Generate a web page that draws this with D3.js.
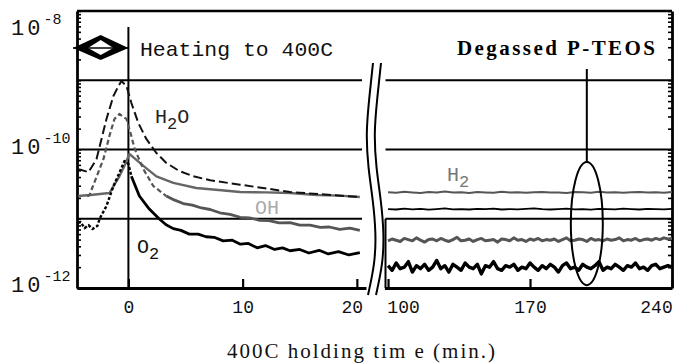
<!DOCTYPE html>
<html>
<head>
<meta charset="utf-8">
<script src="https://cdn.jsdelivr.net/npm/d3@7"></script>
<style>
  body { margin: 0; background: #fff; }
  svg { display: block; }
</style>
</head>
<body>
<svg id="chart" width="691" height="363"></svg>
<script>
// left panel: minutes around the heating step, [time, pressure]
const h2oLeft = [[-4.4, 5.2e-11], [-4.19, 5.1e-11], [-3.49, 4.7e-11], [-2.79, 7.3e-11], [-1.92, 2.76e-10],
  [-1.31, 5.93e-10], [-0.87, 8.26e-10], [-0.61, 9.75e-10], [-0.17, 8.26e-10], [0.26, 4.69e-10],
  [0.87, 2.41e-10], [1.57, 1.42e-10], [2.45, 8.9e-11], [3.32, 6.4e-11], [4.45, 4.9e-11],
  [5.68, 4.1e-11], [7.16, 3.6e-11], [9.78, 3.1e-11], [11.79, 2.78e-11], [14.15, 2.43e-11], [20.26, 2.06e-11]]

const h2Left = [[-4.4, 2.13e-11], [-3.32, 2.2e-11], [-1.66, 2.35e-11], [-0.79, 4.1e-11], [-0.35, 5.8e-11],
  [0.09, 8.6e-11], [0.52, 7.5e-11], [1.31, 5.8e-11], [2.45, 4.1e-11], [3.93, 3.3e-11], [5.94, 2.78e-11],
  [7.9, 2.6e-11], [9.78, 2.43e-11], [12.0, 2.4e-11], [14.15, 2.35e-11], [16.5, 2.2e-11], [18.5, 2.16e-11],
  [20.26, 2.06e-11]]

const ohLeft = [[-3.6, 2.1e-11], [-3.41, 2.2e-11], [-2.18, 7.3e-11], [-1.66, 1.57e-10], [-1.22, 2.76e-10],
  [-0.79, 3.26e-10], [-0.17, 2.76e-10], [0.26, 1.57e-10], [0.52, 1.05e-10], [1.31, 5.2e-11],
  [2.18, 2.97e-11], [3.32, 2.13e-11], [4.0, 1.87e-11], [4.8, 1.66e-11], [5.6, 1.57e-11], [6.4, 1.43e-11],
  [7.16, 1.36e-11], [8.0, 1.22e-11], [8.9, 1.16e-11], [9.78, 1.05e-11], [10.6, 1.03e-11], [11.5, 9.5e-12],
  [12.3, 9.4e-12], [13.2, 8.7e-12], [14.15, 8.8e-12], [15.0, 8.1e-12], [15.9, 8.1e-12], [16.8, 7.5e-12],
  [17.6, 7.6e-12], [18.5, 7.0e-12], [19.4, 7.3e-12], [20.26, 6.8e-12]]

const o2Left = [[-4.4, 8.7e-12], [-4.19, 9.0e-12], [-3.84, 7.3e-12], [-3.49, 8.1e-12], [-3.14, 7.1e-12],
  [-2.71, 7.9e-12], [-2.53, 9.9e-12], [-1.92, 1.53e-11], [-1.31, 2.97e-11], [-0.79, 4.6e-11],
  [-0.35, 6.8e-11], [0.0, 6.2e-11], [0.26, 4.1e-11], [0.96, 2.13e-11], [1.83, 1.38e-11], [2.71, 9.9e-12],
  [3.3, 8.2e-12], [3.93, 7.2e-12], [4.6, 6.8e-12], [5.33, 6.0e-12], [6.1, 6.0e-12], [6.8, 5.5e-12],
  [7.5, 5.4e-12], [8.3, 4.8e-12], [9.1, 4.9e-12], [9.8, 4.3e-12], [10.5, 4.4e-12], [11.27, 3.8e-12],
  [12.0, 4.1e-12], [12.8, 3.6e-12], [13.5, 3.8e-12], [14.15, 3.45e-12], [15.0, 3.6e-12], [15.8, 3.2e-12],
  [16.7, 3.5e-12], [17.5, 3.1e-12], [18.4, 3.35e-12], [19.3, 3.0e-12], [20.26, 3.25e-12]]

// right panel: long holding times
const rightTimes = [100, 104, 108, 112, 116, 120, 124, 128, 132, 136, 140, 144, 148, 152, 156, 160, 164, 168,
  172, 176, 180, 184, 188, 192, 196, 200, 204, 208, 212, 216, 220, 224, 228, 232, 236, 240]

const rightTimesFine = [100, 102, 104, 106, 108, 110, 112, 114, 116, 118, 120, 122, 124, 126, 128, 130, 132,
  134, 136, 138, 140, 142, 144, 146, 148, 150, 152, 154, 156, 158, 160, 162, 164, 166, 168, 170, 172, 174,
  176, 178, 180, 182, 184, 186, 188, 190, 192, 194, 196, 198, 200, 202, 204, 206, 208, 210, 212, 214, 216,
  218, 220, 222, 224, 226, 228, 230, 232, 234, 236, 238, 240]

const h2Right = [2.42e-11, 2.38e-11, 2.45e-11, 2.40e-11, 2.36e-11, 2.44e-11, 2.40e-11, 2.47e-11, 2.39e-11,
  2.41e-11, 2.35e-11, 2.43e-11, 2.40e-11, 2.38e-11, 2.46e-11, 2.40e-11, 2.42e-11, 2.37e-11, 2.41e-11,
  2.44e-11, 2.39e-11, 2.40e-11, 2.36e-11, 2.43e-11, 2.41e-11, 2.38e-11, 2.45e-11, 2.40e-11, 2.42e-11,
  2.37e-11, 2.41e-11, 2.44e-11, 2.39e-11, 2.42e-11, 2.38e-11, 2.43e-11]

const h2oRight = [1.38e-11, 1.36e-11, 1.40e-11, 1.37e-11, 1.39e-11, 1.35e-11, 1.38e-11, 1.41e-11, 1.37e-11,
  1.38e-11, 1.36e-11, 1.39e-11, 1.38e-11, 1.40e-11, 1.36e-11, 1.38e-11, 1.37e-11, 1.39e-11, 1.41e-11,
  1.38e-11, 1.36e-11, 1.38e-11, 1.40e-11, 1.37e-11, 1.38e-11, 1.35e-11, 1.39e-11, 1.38e-11, 1.37e-11,
  1.40e-11, 1.38e-11, 1.36e-11, 1.39e-11, 1.38e-11, 1.37e-11, 1.39e-11]

const ohRight = [4.8e-12, 5.1e-12, 4.9e-12, 4.7e-12, 5.2e-12, 5.0e-12, 4.8e-12, 5.3e-12, 4.9e-12, 4.6e-12,
  5.0e-12, 5.1e-12, 4.8e-12, 5.2e-12, 4.9e-12, 4.7e-12, 5.0e-12, 5.4e-12, 4.8e-12, 4.9e-12,
  5.1e-12, 4.7e-12, 5.0e-12, 5.2e-12, 4.8e-12, 4.9e-12, 5.0e-12, 4.6e-12, 5.1e-12, 5.0e-12,
  4.8e-12, 5.3e-12, 4.9e-12, 5.0e-12, 4.7e-12, 5.1e-12, 4.9e-12, 5.2e-12, 4.8e-12, 5.0e-12,
  4.9e-12, 5.1e-12, 4.7e-12, 5.0e-12, 5.3e-12, 4.8e-12, 4.9e-12, 5.1e-12, 5.0e-12, 4.7e-12,
  5.2e-12, 4.9e-12, 5.0e-12, 4.8e-12, 5.1e-12, 4.9e-12, 5.0e-12, 5.3e-12, 4.8e-12, 5.0e-12,
  4.9e-12, 5.2e-12, 4.8e-12, 5.0e-12, 5.1e-12, 4.9e-12, 5.2e-12, 5.0e-12, 5.3e-12, 5.1e-12, 5.2e-12]

const o2Right = [2.1e-12, 1.8e-12, 2.3e-12, 1.9e-12, 2.0e-12, 2.4e-12, 1.7e-12, 2.1e-12, 1.9e-12, 2.2e-12,
  1.8e-12, 2.0e-12, 2.5e-12, 1.9e-12, 2.1e-12, 1.7e-12, 2.2e-12, 2.0e-12, 1.8e-12, 2.3e-12,
  2.0e-12, 1.9e-12, 2.2e-12, 1.6e-12, 2.1e-12, 2.0e-12, 2.4e-12, 1.9e-12, 1.8e-12, 2.1e-12,
  2.0e-12, 2.2e-12, 1.8e-12, 2.0e-12, 1.9e-12, 2.3e-12, 2.0e-12, 1.8e-12, 2.1e-12, 1.9e-12,
  2.2e-12, 2.0e-12, 1.7e-12, 2.1e-12, 2.3e-12, 1.9e-12, 2.0e-12, 1.8e-12, 2.2e-12, 2.0e-12,
  1.9e-12, 2.1e-12, 2.4e-12, 1.8e-12, 2.0e-12, 1.9e-12, 2.2e-12, 2.0e-12, 1.8e-12, 2.1e-12,
  2.0e-12, 2.3e-12, 1.9e-12, 2.0e-12, 1.8e-12, 2.1e-12, 2.2e-12, 1.9e-12, 2.0e-12, 2.1e-12, 2.0e-12]

const leftTicks = [0, 10, 20]
const rightTicks = [100, 170, 240]
const decadeLabels = [-8, -10, -12]
const gridDecades = [1e-9, 1e-10, 1e-11]

var svg = d3.select("#chart")

var xL = d3.scaleLinear().domain([-4.5, 20.8]).range([77, 366]),
  xR = d3.scaleLinear().domain([98.2, 240]).range([384.4, 672]),
  y = d3.scaleLog().domain([1e-12, 1e-8]).range([288, 11])

const mono = "'Liberation Mono', 'DejaVu Sans Mono', monospace"
const serif = "'Liberation Serif', 'DejaVu Serif', serif"

// gridlines, split at the break
svg.append("g").selectAll("line.gl")
  .data(gridDecades).enter().append("line")
  .attr("x1", 77).attr("x2", 362)
  .attr("y1", d => y(d)).attr("y2", d => y(d))
  .attr("stroke", "#000").attr("stroke-width", 2.2)
svg.append("g").selectAll("line.gr")
  .data(gridDecades).enter().append("line")
  .attr("x1", 385.5).attr("x2", 672)
  .attr("y1", d => y(d)).attr("y2", d => y(d))
  .attr("stroke", "#000").attr("stroke-width", 2.2)

// top frame
svg.append("line").attr("x1", 77).attr("x2", 672).attr("y1", 11).attr("y2", 11)
  .attr("stroke", "#000").attr("stroke-width", 2.5)

// y axes with log minor ticks on the inside
svg.append("g").attr("class", "yl")
  .attr("transform", "translate(77,0)")
  .call(d3.axisRight(y).tickValues(y.ticks()).tickSize(4).tickSizeOuter(0).tickFormat(""))
svg.append("g").attr("class", "yr")
  .attr("transform", "translate(672,0)")
  .call(d3.axisLeft(y).tickValues(y.ticks()).tickSize(4).tickSizeOuter(0).tickFormat(""))
svg.selectAll(".yl path, .yr path").attr("stroke", "#000").attr("stroke-width", 2.8)
svg.selectAll(".yl line, .yr line").attr("stroke", "#000").attr("stroke-width", 1.6)

// bottom axes
svg.append("g").attr("class", "xa")
  .attr("transform", "translate(0,288)")
  .call(d3.axisBottom(xL).tickValues(leftTicks).tickSizeInner(-9).tickSizeOuter(0).tickPadding(12))
svg.append("g").attr("class", "xa")
  .attr("transform", "translate(0,288)")
  .call(d3.axisBottom(xR).tickValues(rightTicks).tickSizeInner(-9).tickSizeOuter(0).tickPadding(12))
svg.selectAll(".xa path").attr("stroke", "#000").attr("stroke-width", 2.8)
svg.selectAll(".xa line").attr("stroke", "#000").attr("stroke-width", 2.2)
svg.selectAll(".xa text").attr("font-family", mono).attr("font-size", 18).attr("fill", "#111")
const tickNudge = { 20: -5, 100: 15, 240: -16 }
svg.selectAll(".xa .tick text").attr("dx", d => tickNudge[d] || 0)

// short edge of the right panel
svg.append("line").attr("x1", 385.5).attr("x2", 385.5).attr("y1", y(1e-11)).attr("y2", 288)
  .attr("stroke", "#000").attr("stroke-width", 2)

// vertical line at start of holding
svg.append("line").attr("x1", xL(0)).attr("x2", xL(0)).attr("y1", 27).attr("y2", 288)
  .attr("stroke", "#000").attr("stroke-width", 2)

// curves
var lineL = d3.line().x(d => xL(d[0])).y(d => y(d[1]))
var lineR = d3.line().x(d => xR(d[0])).y(d => y(d[1]))

function addPath(data, gen, color, width, dash) {
  svg.append("path").datum(data).attr("d", gen)
    .attr("fill", "none").attr("stroke", color).attr("stroke-width", width)
    .attr("stroke-linejoin", "round")
    .attr("stroke-dasharray", dash || null)
}

addPath(h2Left, lineL, "#666", 2.4)
addPath(ohLeft.filter(d => d[0] <= 3.4), lineL, "#555", 2.2, "5,3")
addPath(ohLeft.filter(d => d[0] >= 3.3), lineL, "#555", 2.8)
addPath(o2Left.filter(d => d[0] <= 0.3), lineL, "#000", 2.4, "3,2")
addPath(o2Left.filter(d => d[0] >= 0.26), lineL, "#000", 2.8)
addPath(h2oLeft, lineL, "#111", 2, "9,4")

addPath(rightTimes.map((t, i) => [t, h2Right[i]]), lineR, "#555", 2)
addPath(rightTimes.map((t, i) => [t, h2oRight[i]]), lineR, "#000", 1.8)
addPath(rightTimesFine.map((t, i) => [t, ohRight[i]]), lineR, "#555", 3)
addPath(rightTimesFine.map((t, i) => [t, o2Right[i]]), lineR, "#000", 3.4)

// axis break marks
var brk = d3.line().curve(d3.curveBasis)
const brkPts = [[373, 63], [369, 100], [366, 133], [368, 167], [373, 200], [376, 233], [375, 263], [368, 295]]
addPath(brkPts, brk, "#000", 2)
addPath(brkPts.map(p => [p[0] + 8, p[1]]), brk, "#000", 2)

// ellipse and pointer
var ex = xR(198), eTop = y(6.6e-11), eBot = y(1.1e-12)
svg.append("ellipse").attr("cx", ex).attr("cy", (eTop + eBot) / 2)
  .attr("rx", 16).attr("ry", (eBot - eTop) / 2)
  .attr("fill", "none").attr("stroke", "#000").attr("stroke-width", 2)
svg.append("line").attr("x1", ex).attr("x2", ex).attr("y1", 69).attr("y2", eTop)
  .attr("stroke", "#000").attr("stroke-width", 2)

// heating arrow
var ay = 48, a0 = 73, a1 = xL(0), am = (a0 + a1) / 2
svg.append("path")
  .attr("d", `M${a0},${ay}L${am},${ay - 13}L${a1},${ay}L${am},${ay + 12}Z`)
  .attr("fill", "#000")
svg.append("path")
  .attr("d", `M${a0 + 15},${ay}L${am},${ay - 8}L${a1 - 15},${ay}L${am},${ay + 7}Z`)
  .attr("fill", "#fff")
svg.append("line").attr("x1", a0).attr("x2", a1).attr("y1", ay).attr("y2", ay)
  .attr("stroke", "#000").attr("stroke-width", 1.5)

// texts
svg.append("text").attr("x", 140).attr("y", 56)
  .attr("font-family", mono).attr("font-size", 21).attr("fill", "#111")
  .attr("textLength", 193).attr("lengthAdjust", "spacingAndGlyphs")
  .text("Heating to 400C")

svg.append("text").attr("x", 457).attr("y", 55)
  .attr("font-family", serif).attr("font-weight", "bold").attr("font-size", 21).attr("fill", "#000")
  .attr("textLength", 198).attr("lengthAdjust", "spacing")
  .text("Degassed P-TEOS")

function chem(x, yy, base, sub, tail, color) {
  var t = svg.append("text").attr("x", x).attr("y", yy)
    .attr("font-family", mono).attr("font-size", 20).attr("fill", color)
  t.append("tspan").text(base)
  if (sub) t.append("tspan").attr("dy", 6).attr("font-size", 17).text(sub)
  if (tail) t.append("tspan").attr("dy", -6).text(tail)
}
chem(155, 123, "H", "2", "O", "#222")
chem(447, 181, "H", "2", "", "#777")
chem(255, 214, "OH", "", "", "#aaa")
chem(137, 253, "O", "2", "", "#111")

// y labels 10^n
svg.append("g").selectAll("text")
  .data(decadeLabels).enter().append("text")
  .attr("x", 11)
  .attr("y", d => Math.max(y(Math.pow(10, d)) + 4, 35))
  .attr("font-family", mono).attr("font-size", 22).attr("fill", "#111")
  .each(function (d) {
    var t = d3.select(this)
    t.append("tspan").attr("letter-spacing", 3).text("10")
    t.append("tspan").attr("dy", -11).attr("font-size", 15).text(String(d))
  })

svg.append("text").attr("x", 227).attr("y", 358)
  .attr("font-family", serif).attr("font-size", 21).attr("fill", "#111")
  .attr("textLength", 268).attr("lengthAdjust", "spacing")
  .text("400C holding tim e (min.)")
</script>
</body>
</html>
